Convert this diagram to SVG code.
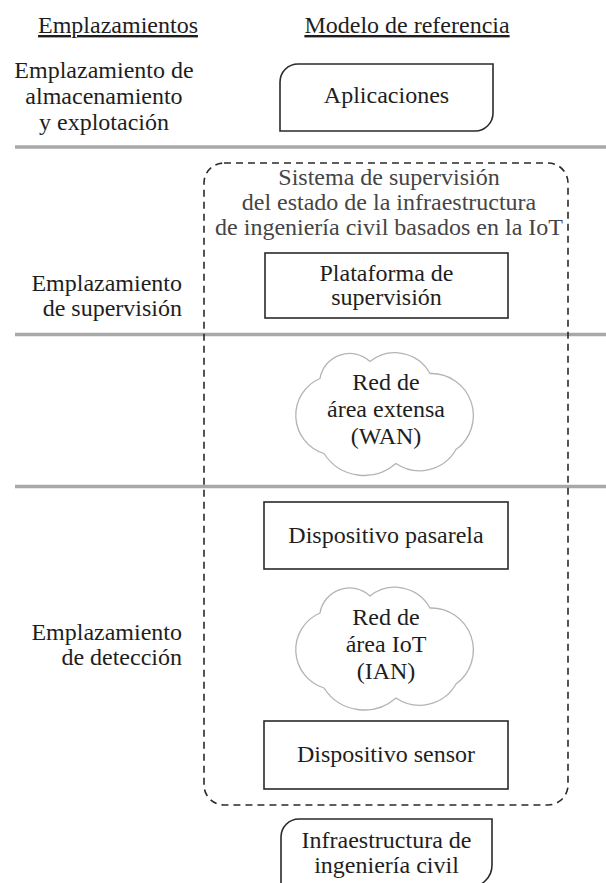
<svg xmlns="http://www.w3.org/2000/svg" width="606" height="883" viewBox="0 0 606 883">
<style>
  text { font-family: 'Liberation Serif', 'DejaVu Serif', serif; font-size: 24px; fill: #1e1e1e; }
  .c { text-anchor: middle; }
  .r { text-anchor: end; }
  .g { fill: #454545; }
  .u { text-decoration: underline; }
  .sep { stroke: #a8a8a8; stroke-width: 3.5; fill: none; }
  .box { fill: #fff; stroke: #2a2a2a; stroke-width: 1.6; }
  .dash { fill: none; stroke: #2a2a2a; stroke-width: 1.6; stroke-dasharray: 7 5; }
  .cloud { fill: #fff; stroke: #b4b4b4; stroke-width: 1.3; }
</style>
<defs>
  <path id="cloudShape" d="M -62,44 A 40 40 0 0 1 -66,-31 A 30 30 0 0 1 -16,-48 A 40 40 0 0 1 44,-36 A 42 42 0 0 1 70,40 A 42 42 0 0 1 10,54 A 48 48 0 0 1 -62,44 Z"/>
</defs>

<g id="separators">
  <line class="sep" x1="15" y1="147" x2="606" y2="147"/>
  <line class="sep" x1="15" y1="334.5" x2="606" y2="334.5"/>
  <line class="sep" x1="15" y1="486.5" x2="606" y2="486.5"/>
</g>

<g font-family="'Liberation Serif', 'DejaVu Serif', serif">
<g id="headers">
  <text class="c u" x="118" y="33">Emplazamientos</text>
  <text class="c u" x="407" y="33">Modelo de referencia</text>
</g>

<g id="site-storage">
  <text class="c" x="104" y="78">Emplazamiento de</text>
  <text class="c" x="104" y="104">almacenamiento</text>
  <text class="c" x="104" y="130">y explotación</text>
</g>

<g id="site-supervision">
  <text class="r" x="182" y="291">Emplazamiento</text>
  <text class="r" x="182" y="316">de supervisión</text>
</g>

<g id="site-detection">
  <text class="r" x="182" y="640">Emplazamiento</text>
  <text class="r" x="182" y="665">de detección</text>
</g>

<g id="system">
  <rect class="dash" x="204" y="163" width="364" height="642" rx="20" ry="20"/>
  <text class="c g" x="389" y="185">Sistema de supervisión</text>
  <text class="c g" x="389" y="210">del estado de la infraestructura</text>
  <text class="c g" x="389" y="235">de ingeniería civil basados en la IoT</text>
</g>

<g id="applications">
  <path class="box" d="M280 131 V82 A18 18 0 0 1 298 64 H493 V113 A18 18 0 0 1 475 131 Z"/>
  <text class="c" x="386.5" y="103">Aplicaciones</text>
</g>

<g id="platform">
  <rect class="box" x="265" y="253" width="243" height="65"/>
  <text class="c" x="386.5" y="281">Plataforma de</text>
  <text class="c" x="386.5" y="305">supervisión</text>
</g>

<g id="wan">
  <use href="#cloudShape" class="cloud" transform="translate(386 409.5)"/>
  <text class="c" x="386" y="390">Red de</text>
  <text class="c" x="386" y="417">área extensa</text>
  <text class="c" x="386" y="444">(WAN)</text>
</g>

<g id="gateway">
  <rect class="box" x="264" y="502" width="244" height="67"/>
  <text class="c" x="386" y="543">Dispositivo pasarela</text>
</g>

<g id="ian">
  <use href="#cloudShape" class="cloud" transform="translate(386 644)"/>
  <text class="c" x="386" y="625">Red de</text>
  <text class="c" x="386" y="652">área IoT</text>
  <text class="c" x="386" y="679">(IAN)</text>
</g>

<g id="sensor">
  <rect class="box" x="264" y="721" width="244" height="68"/>
  <text class="c" x="386" y="762">Dispositivo sensor</text>
</g>

<g id="infrastructure">
  <path class="box" d="M281 890 V837 A18 18 0 0 1 299 819 H492 V865 A22 22 0 0 1 470 887"/>
  <text class="c" x="386.5" y="848">Infraestructura de</text>
  <text class="c" x="386.5" y="873">ingeniería civil</text>
</g>
</g>

<g id="connectors"></g>
</svg>
